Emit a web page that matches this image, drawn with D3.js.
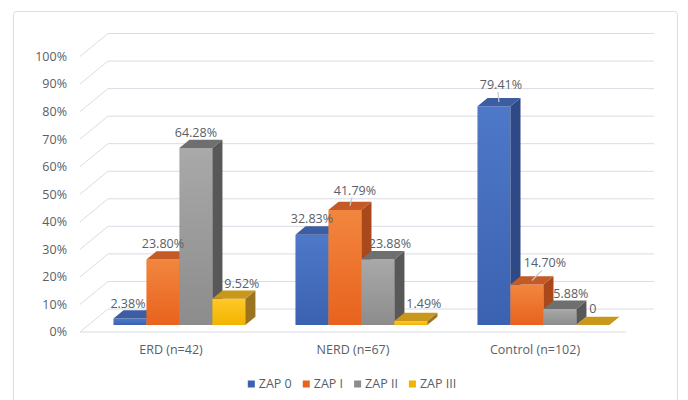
<!DOCTYPE html>
<html>
<head>
<meta charset="utf-8">
<script src="https://cdn.jsdelivr.net/npm/d3@7"></script>
<style>
    body { margin: 0; background: #fff; }
    svg { display: block; font-family: 'Open Sans', 'Liberation Sans', Arial, sans-serif; }
</style>
</head>
<body>
<svg id="chart" width="688" height="400"></svg>
<script>
// values
const categories = ['ERD (n=42)', 'NERD (n=67)', 'Control (n=102)'];
const seriesNames = ['ZAP 0', 'ZAP I', 'ZAP II', 'ZAP III'];
const zap0 = [2.38, 32.83, 79.41];
const zap1 = [23.8, 41.79, 14.7];
const zap2 = [64.28, 23.88, 5.88];
const zap3 = [9.52, 1.49, 0];
const yTicks = [0, 10, 20, 30, 40, 50, 60, 70, 80, 90, 100];

const seriesValues = [zap0, zap1, zap2, zap3];

// face colours per series: front top, front bottom, top, side
const palette = [
    ['#4e78c8', '#3b62b0', '#3c5da2', '#2e4986'],
    ['#f2863f', '#e8621d', '#c45a26', '#a8481b'],
    ['#a9a9a9', '#8c8c8c', '#6f6f6f', '#585858'],
    ['#ffc829', '#f2b400', '#c9981a', '#9a7420'],
];
const textColor = '#5a5e66';

// label nudges (dx, dy) where Excel moved the label, and which got a leader line
const labelNudge = [
    [[-2, 1], [0, 0], [7, -6]],
    [[0, 0], [10, -4], [18, -6]],
    [[0, 0], [12, 0], [11, 0]],
    [[13, 0], [13, -2], [0, -1]],
];
const leaders = [[0, 2], [1, 1], [1, 2]];

const svg = d3.select('#chart');

// 3d box: front plane + depth shift
const depth = { dx: 28, dy: -23 };
const barFront = 0.3, barDepth = 0.36;

const y = d3.scaleLinear().domain([0, 100]).range([332, 56.5]);
const x0 = d3.scaleBand().domain(categories).range([80, 626]).padding(0);
const x1 = d3.scaleBand().domain(seriesNames).range([0, x0.bandwidth()])
    .paddingInner(0).paddingOuter(0.76);

const proj = (x, v, d) => [x + d * depth.dx, y(v) + d * depth.dy];

// outer frame
svg.append('rect')
    .attr('x', 13.5).attr('y', 11.5)
    .attr('width', 664).attr('height', 420)
    .attr('rx', 3)
    .attr('fill', '#fff')
    .attr('stroke', '#d9dde5');

// gradients
const defs = svg.append('defs');
palette.forEach((c, i) => {
    const g = defs.append('linearGradient')
        .attr('id', 'grad' + i)
        .attr('x1', 0).attr('y1', 0).attr('x2', 0).attr('y2', 1);
    g.append('stop').attr('offset', '0%').attr('stop-color', c[0]);
    g.append('stop').attr('offset', '100%').attr('stop-color', c[1]);
});

// grid: back wall lines + left wall diagonals
const grid = svg.append('g').attr('stroke', '#d9dce3').attr('stroke-width', 1).attr('fill', 'none');
yTicks.forEach((t) => {
    const [bx0, by] = proj(80, t, 1);
    const [bx1] = proj(626, t, 1);
    grid.append('line').attr('x1', bx0).attr('x2', bx1).attr('y1', by).attr('y2', by);
    grid.append('line').attr('x1', 80).attr('y1', y(t)).attr('x2', bx0).attr('y2', by);
});
// floor front edge
grid.append('line').attr('x1', 80).attr('x2', 626).attr('y1', y(0)).attr('y2', y(0));

// y axis labels
svg.append('g')
    .selectAll('text')
    .data(yTicks)
    .join('text')
    .attr('x', 67)
    .attr('y', (d) => y(d))
    .attr('dy', '0.35em')
    .attr('text-anchor', 'end')
    .attr('font-size', 12.5)
    .attr('fill', textColor)
    .text((d) => d + '%');

// bars, drawn left to right so each front hides the previous side face
const bars = [];
categories.forEach((cat, ci) => {
    seriesNames.forEach((s, si) => {
        bars.push({ ci, si, cat, s, v: seriesValues[si][ci] });
    });
});

const toPts = (pts) => pts.map((p) => p.join(',')).join(' ');
const barG = svg.append('g');
bars.forEach((b) => {
    const xl = x0(b.cat) + x1(b.s);
    const xr = xl + x1.bandwidth();
    const d0 = barFront, d1 = barFront + barDepth;
    const c = palette[b.si];
    const g = barG.append('g');
    // front
    g.append('polygon')
        .attr('points', toPts([proj(xl, 0, d0), proj(xl, b.v, d0), proj(xr, b.v, d0), proj(xr, 0, d0)]))
        .attr('fill', `url(#grad${b.si})`);
    // side
    g.append('polygon')
        .attr('points', toPts([proj(xr, 0, d0), proj(xr, b.v, d0), proj(xr, b.v, d1), proj(xr, 0, d1)]))
        .attr('fill', c[3]);
    // top
    g.append('polygon')
        .attr('points', toPts([proj(xl, b.v, d0), proj(xl, b.v, d1), proj(xr, b.v, d1), proj(xr, b.v, d0)]))
        .attr('fill', c[2]);
});

// data labels
const fmt = (v) => (v === 0 ? '0' : v.toFixed(2) + '%');
const lab = svg.append('g');
bars.forEach((b) => {
    const xc = x0(b.cat) + x1(b.s) + x1.bandwidth() / 2;
    const [fx] = proj(xc, b.v, barFront);
    const [, by] = proj(xc, b.v, barFront + barDepth);
    const [ndx, ndy] = labelNudge[b.si][b.ci];
    const lx = fx + ndx, ly = by - 3 + ndy;
    if (leaders.some(([s, c]) => s === b.si && c === b.ci)) {
        const [tx, ty] = proj(xc, b.v, barFront + barDepth / 2);
        lab.append('line')
            .attr('x1', tx).attr('y1', ty)
            .attr('x2', lx - 3).attr('y2', ly + 3)
            .attr('stroke', '#c8c8c8').attr('stroke-width', 1.2);
    }
    lab.append('text')
        .attr('x', lx).attr('y', ly)
        .attr('text-anchor', 'middle')
        .attr('font-size', 12.5)
        .attr('fill', textColor)
        .text(fmt(b.v));
});

// category labels
svg.append('g')
    .selectAll('text')
    .data(categories)
    .join('text')
    .attr('x', (d) => x0(d) + x0.bandwidth() / 2)
    .attr('y', 354)
    .attr('text-anchor', 'middle')
    .attr('font-size', 12.5)
    .attr('fill', textColor)
    .text((d) => d);

// legend
const legend = svg.append('g');
let lx = 0;
seriesNames.forEach((s, i) => {
    const item = legend.append('g').attr('transform', `translate(${lx},0)`);
    item.append('rect').attr('x', 0).attr('y', -3.5).attr('width', 7).attr('height', 7)
        .attr('fill', palette[i][1]);
    const t = item.append('text').attr('x', 11).attr('y', 0).attr('dy', '0.35em')
        .attr('font-size', 12.5).attr('fill', textColor).text(s);
    lx += 11 + t.node().getComputedTextLength() + 11;
});
const lw = lx - 11;
legend.attr('transform', `translate(${352 - lw / 2},384)`);
</script>
</body>
</html>
